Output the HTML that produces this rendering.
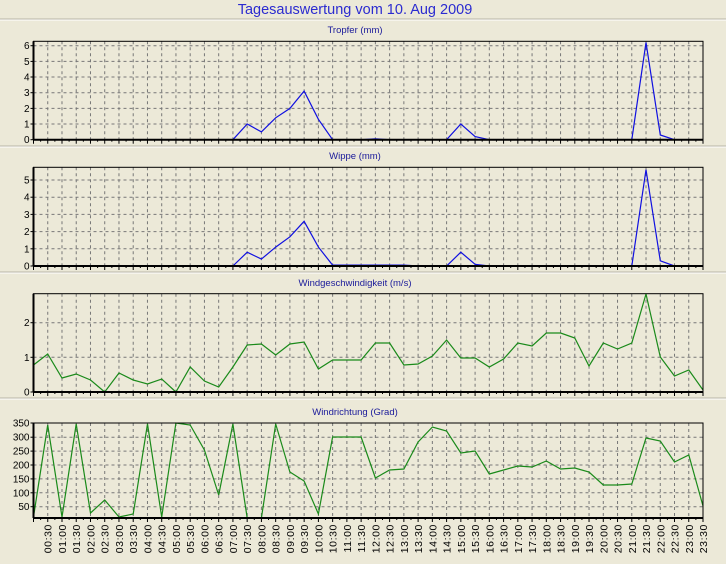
<!DOCTYPE html>
<html><head><meta charset="utf-8">
<style>
html,body{margin:0;padding:0;background:#ece9d8;}
svg{display:block;font-family:"Liberation Sans",sans-serif;}
</style></head>
<body>
<svg id="s" width="726" height="564" viewBox="0 0 726 564" xmlns="http://www.w3.org/2000/svg">
<rect width="726" height="564" fill="#ece9d8"/>
<text x="355" y="14" font-size="14.5" fill="#2b2bd0" text-anchor="middle">Tagesauswertung vom 10. Aug 2009</text>
</svg>
<script>
var s=document.getElementById('s'),NS='http://www.w3.org/2000/svg';
function el(n,a,t){var e=document.createElementNS(NS,n);for(var k in a)e.setAttribute(k,a[k]);if(t!==undefined)e.textContent=t;s.appendChild(e);return e;}
var L=33.5,R=703,dx=(R-L)/47;
function X(i){return L+dx*i;}
// separators
[19,146,272,398].forEach(function(y){el('line',{x1:0,x2:726,y1:y,y2:y,stroke:'#b8b5a6','stroke-width':1});el('line',{x1:0,x2:726,y1:y+1,y2:y+1,stroke:'#fff','stroke-width':1});});
var panels=[
 {t:'Tropfer (mm)',top:41.3,bot:139.7,ty:33,ticks:[[0,139.7],[1,124],[2,108.4],[3,92.7],[4,77],[5,61.4],[6,45.7]],col:'#1010e0'},
 {t:'Wippe (mm)',top:167.3,bot:266,ty:159,ticks:[[0,266],[1,248.8],[2,231.6],[3,214.4],[4,197.2],[5,180]],col:'#1010e0'},
 {t:'Windgeschwindigkeit (m/s)',top:293.7,bot:392,ty:286,ticks:[[0,392],[1,357.3],[2,322.7]],col:'#1a8a1a'},
 {t:'Windrichtung (Grad)',top:423,bot:518,ty:415,ticks:[[50,506.7],[100,492.8],[150,478.9],[200,465],[250,451.1],[300,437.2],[350,423]],col:'#1a8a1a'}
];
panels.forEach(function(p){
 el('text',{x:355,y:p.ty,'font-size':9.5,fill:'#1a1a9a','text-anchor':'middle'},p.t);
 for(var i=1;i<47;i++)el('line',{x1:X(i),x2:X(i),y1:p.top,y2:p.bot,stroke:'#777','stroke-width':1,'stroke-dasharray':'3,3'});
 p.ticks.forEach(function(t){
  el('line',{x1:L,x2:R,y1:t[1],y2:t[1],stroke:'#777','stroke-width':1,'stroke-dasharray':'3,3'});
  el('line',{x1:L-3,x2:L,y1:t[1],y2:t[1],stroke:'#000','stroke-width':1});
  el('text',{x:L-4,y:t[1]+3.5,'font-size':10,fill:'#000','text-anchor':'end'},String(t[0]));
 });
 for(var j=0;j<=94;j++){var xx=L+dx*j/2;el('line',{x1:xx,x2:xx,y1:p.bot,y2:p.bot+(j%2?2:4),stroke:'#000','stroke-width':1});}
 p.g=el('g',{});
});
function line(pts,col){el('polyline',{points:pts.map(function(q){return q[0].toFixed(1)+','+q[1].toFixed(1)}).join(' '),fill:'none',stroke:col,'stroke-width':1.2});}
// Tropfer
var t1={14:0,15:1.0,16:0.5,17:1.4,18:2.0,19:3.1,20:1.3,21:0,22:0,23:0,24:0.05,25:0,26:0,27:0,28:0,29:0,30:1.0,31:0.2,32:0,33:0,34:0,35:0,36:0,37:0,38:0,39:0,40:0,41:0,42:0,43:6.2,44:0.3,45:0};
var a=[];for(var k=14;k<=45;k++)a.push([X(k),139.7-t1[k]*15.67]);line(a,'#1010e0');
var t2={14:0,15:0.8,16:0.4,17:1.1,18:1.7,19:2.6,20:1.1,21:0.05,22:0.05,23:0.05,24:0.05,25:0.05,26:0.05,27:0,28:0,29:0,30:0.8,31:0.1,32:0,33:0,34:0,35:0,36:0,37:0,38:0,39:0,40:0,41:0,42:0,43:5.6,44:0.3,45:0};
a=[];for(k=14;k<=45;k++)a.push([X(k),266-t2[k]*17.2]);line(a,'#1010e0');
var w=[365,354,378,374,380,392,373,380,384,379,392,367,381,387,367,345,344,355,344,342,369,360,360,360,343,343,365,364,356,340,358,358,367,359,343,346,333,333,338,366,343,349,343,294,357,376,370,390];
line(w.map(function(y,i){return [X(i),y]}),'#1a8a1a');
var d=[517,425,517,424,513,500,517,514,424,517,423,425,450,495,424,518,518,424,472,481,514,437,437,437,478,470,469,442,427,431,453,451,474,470,466,467,461,469,468,472,485,485,484,438,441,462,455,506];
line(d.map(function(y,i){return [X(i),y]}),'#1a8a1a');
// axes frames
panels.forEach(function(p){
 el('rect',{x:L,y:p.top,width:R-L,height:p.bot-p.top,fill:'none',stroke:'#000','stroke-width':1});
 el('line',{x1:L,x2:R,y1:p.bot,y2:p.bot,stroke:'#000','stroke-width':2});
 el('line',{x1:L,x2:L,y1:p.top,y2:p.bot,stroke:'#000','stroke-width':2});
});
// x labels
for(var i=1;i<48;i++){var h=Math.floor(i/2),m=i%2?'30':'00';var lab=(h<10?'0':'')+h+':'+m;
 el('text',{x:0,y:0,'font-size':10.5,fill:'#000','text-anchor':'end','letter-spacing':'0.6',transform:'translate('+(X(i)+4)+',524) rotate(-90)'},lab);}
</script>
</body></html>
